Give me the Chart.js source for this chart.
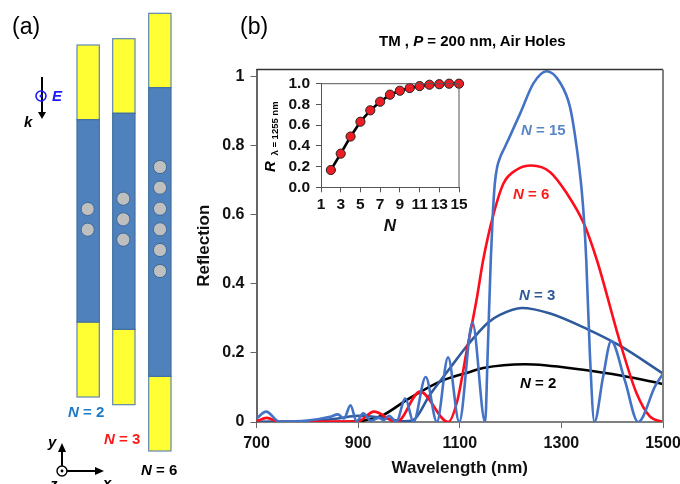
<!DOCTYPE html>
<html>
<head>
<meta charset="utf-8">
<title>Reflection</title>
<script src="https://cdn.jsdelivr.net/npm/chart.js@4/dist/chart.umd.min.js"></script>
<style>
html, body { margin: 0; padding: 0; background: #fff; overflow: hidden; }
#wrap { position: relative; width: 680px; height: 484px; overflow: hidden; }
canvas { position: absolute; }
#mainChart { left: 0; top: 0; }
#insetChart { left: 262px; top: 72px; }
svg { position: absolute; left: 0; top: 0; pointer-events: none; }
svg text { font-family: "Liberation Sans", Arial, sans-serif; }
.b { font-weight: bold; }
.i { font-style: italic; }
</style>
</head>
<body>
<div id="wrap">
<canvas id="mainChart" width="680" height="484"></canvas>
<canvas id="insetChart" width="205" height="170"></canvas>
<svg id="sketch" width="680" height="484" xmlns="http://www.w3.org/2000/svg">
  <text x="12" y="34" font-size="23">(a)</text>
  <text x="240" y="34" font-size="23">(b)</text>
  <text x="379" y="46" font-size="15" class="b">TM , <tspan class="i">P</tspan> = 200 nm, Air Holes</text>

  <!-- incident field -->
  <line x1="42" y1="77" x2="42" y2="112" stroke="#000" stroke-width="2"/>
  <polygon points="38,112 46,112 42,119" fill="#000"/>
  <circle cx="41" cy="96" r="5" fill="none" stroke="#1a1aff" stroke-width="1.6"/>
  <circle cx="41" cy="96" r="1.5" fill="#1a1aff"/>
  <text x="52" y="101" font-size="15" fill="#1a1aff" class="b i">E</text>
  <text x="24" y="127" font-size="15" class="b i">k</text>

  <!-- coordinate axes -->
  <line x1="62" y1="471" x2="62" y2="450" stroke="#000" stroke-width="2"/>
  <polygon points="58,452 66,452 62,443" fill="#000"/>
  <line x1="62" y1="471" x2="96" y2="471" stroke="#000" stroke-width="2"/>
  <polygon points="95,467 95,475 104,471" fill="#000"/>
  <circle cx="62" cy="471" r="5" fill="#fff" stroke="#000" stroke-width="1.4"/>
  <circle cx="62" cy="471" r="1.4" fill="#000"/>
  <text x="48" y="447" font-size="15" class="b i">y</text>
  <text x="103" y="488" font-size="15" class="b i">x</text>
  <text x="50" y="489" font-size="15" class="b i">z</text>

  <text x="68" y="417" font-size="15" fill="#1f7ac4" class="b"><tspan class="i">N</tspan> = 2</text>
  <text x="104" y="444" font-size="15" fill="#ff1a1a" class="b"><tspan class="i">N</tspan> = 3</text>
  <text x="141" y="475" font-size="15" class="b"><tspan class="i">N</tspan> = 6</text>

  <!-- curve labels -->
  <text x="521" y="135" font-size="15" fill="#5b87c5" class="b"><tspan class="i">N</tspan> = 15</text>
  <text x="513" y="199" font-size="15" fill="#ff1a1a" class="b"><tspan class="i">N</tspan> = 6</text>
  <text x="519" y="300" font-size="15" fill="#2f5a96" class="b"><tspan class="i">N</tspan> = 3</text>
  <text x="520" y="388" font-size="15" fill="#000" class="b"><tspan class="i">N</tspan> = 2</text>

  <!-- inset y title -->
  <text transform="translate(275,172) rotate(-90)" font-size="15" class="b"><tspan class="i">R</tspan><tspan font-size="9.5" dx="3" dy="3"> λ = 1255 nm</tspan></text>
</svg>
</div>
<script>
// Reflection spectra, main plot
const wl2 = [700, 850, 890, 910, 949, 996, 1061, 1120, 1146, 1228, 1343, 1422, 1500];
const r2 = [0, 0, 0.001, 0.004, 0.02, 0.064, 0.117, 0.145, 0.156, 0.167, 0.151, 0.133, 0.11];

const wl3 = [700, 800, 860, 900, 950, 990, 1008, 1041, 1081, 1114, 1156, 1179, 1222, 1278, 1352, 1416, 1500];
const r3 = [0, 0.002, 0.01, 0.018, 0.012, 0.002, 0.005, 0.078, 0.156, 0.22, 0.288, 0.31, 0.33, 0.314, 0.268, 0.22, 0.14];

const wl6 = [700, 720, 745, 860, 900, 931, 976, 1022, 1077, 1095, 1114, 1133, 1146, 1165, 1186, 1212, 1241, 1278, 1311, 1344, 1370, 1416, 1448, 1474, 1500];
const r6 = [0.002, 0.012, 0, 0.001, 0.002, 0.03, 0, 0.088, 0, 0.06, 0.208, 0.353, 0.468, 0.593, 0.69, 0.73, 0.742, 0.723, 0.661, 0.575, 0.468, 0.228, 0.083, 0.016, 0];

const wl15 = [700, 719, 745, 800, 845, 860, 872, 885, 897, 910, 925, 941, 950, 961, 975, 993, 1009, 1033, 1055, 1077, 1099, 1125, 1150, 1155, 1161, 1165, 1169, 1174, 1180, 1187, 1195, 1219, 1245, 1271, 1297, 1317, 1330, 1340, 1345, 1349, 1356, 1365, 1382, 1398, 1425, 1451, 1485, 1500];
const r15 = [0.01, 0.03, 0.001, 0.004, 0.015, 0.022, 0.01, 0.048, 0.002, 0.025, 0.004, 0.012, 0.005, 0.018, 0, 0.068, 0, 0.13, 0, 0.187, 0, 0.287, 0, 0.2, 0.468, 0.6, 0.69, 0.74, 0.768, 0.79, 0.815, 0.893, 0.98, 1.015, 0.983, 0.911, 0.796, 0.67, 0.575, 0.468, 0.2, 0, 0.13, 0.234, 0.12, 0, 0.105, 0.14];

const xTicks = [700, 900, 1100, 1300, 1500];
const yTicks = [0, 0.2, 0.4, 0.6, 0.8, 1];

// Inset: reflection at 1255 nm against N
const insetN = [2, 3, 4, 5, 6, 7, 8, 9, 10, 11, 12, 13, 14, 15];
const insetR = [0.167, 0.325, 0.49, 0.633, 0.743, 0.826, 0.894, 0.932, 0.958, 0.977, 0.99, 0.995, 1, 1];
const insetXTicks = [1, 3, 5, 7, 9, 11, 13, 15];
const insetYTicks = [0, 0.2, 0.4, 0.6, 0.8, 1];

// Schematic rods and holes
const rods = [
    { x: 77, top: 45, blueTop: 119.7, blueBottom: 322, bottom: 397, cx: 87.7, holes: [209, 229.7] },
    { x: 112.7, top: 38.7, blueTop: 113.3, blueBottom: 329.3, bottom: 404.7, cx: 123.3, holes: [198.7, 219.3, 239.7] },
    { x: 148.7, top: 13.3, blueTop: 87.7, blueBottom: 376.3, bottom: 451, cx: 160, holes: [167, 187.7, 208.7, 229.3, 250, 271] }
];

const svg = document.getElementById('sketch');
function addShape(tag, attrs) {
    const el = document.createElementNS('http://www.w3.org/2000/svg', tag);
    for (const k in attrs) el.setAttribute(k, attrs[k]);
    svg.appendChild(el);
}
rods.forEach(r => {
    const w = 22.3;
    addShape('rect', { x: r.x, y: r.top, width: w, height: r.blueTop - r.top, fill: '#ffff33', stroke: '#5f86b3', 'stroke-width': 1.2 });
    addShape('rect', { x: r.x, y: r.blueBottom, width: w, height: r.bottom - r.blueBottom, fill: '#ffff33', stroke: '#5f86b3', 'stroke-width': 1.2 });
    addShape('rect', { x: r.x, y: r.blueTop, width: w, height: r.blueBottom - r.blueTop, fill: '#4f81bd', stroke: '#41709f', 'stroke-width': 1.2 });
    r.holes.forEach(cy => addShape('circle', { cx: r.cx, cy: cy, r: 6.6, fill: '#bfbfbf', stroke: '#3f6a98', 'stroke-width': 1 }));
});

function pairs(xs, ys) {
    return xs.map((x, i) => ({ x: x, y: ys[i] }));
}

function curve(xs, ys, color) {
    return {
        data: pairs(xs, ys),
        borderColor: color,
        borderWidth: 2.6,
        pointRadius: 0,
        showLine: true,
        cubicInterpolationMode: 'monotone'
    };
}

// top and right frame lines
const frameLines = {
    id: 'frameLines',
    afterDatasetsDraw(chart, args, opts) {
        const a = chart.chartArea, c = chart.ctx;
        c.save();
        c.strokeStyle = opts.topColor;
        c.lineWidth = opts.topWidth;
        c.beginPath();
        c.moveTo(a.left, a.top);
        c.lineTo(a.right, a.top);
        c.stroke();
        c.strokeStyle = opts.rightColor;
        c.lineWidth = opts.rightWidth;
        c.beginPath();
        c.moveTo(a.right, a.top);
        c.lineTo(a.right, a.bottom);
        c.stroke();
        c.restore();
    }
};

const fontFamily = '"Liberation Sans", Arial, sans-serif';
const tickFont = { family: fontFamily, size: 16, weight: 'bold' };
const insetFont = { family: fontFamily, size: 15.5, weight: 'bold' };
const titleFont = { family: fontFamily, size: 17, weight: 'bold' };

new Chart(document.getElementById('mainChart').getContext('2d'), {
    type: 'scatter',
    data: {
        datasets: [
            curve(wl15, r15, '#4472c4'),
            curve(wl6, r6, '#ff0d1c'),
            curve(wl3, r3, '#2f5a9c'),
            curve(wl2, r2, '#000000')
        ]
    },
    plugins: [frameLines],
    options: {
        responsive: false,
        animation: false,
        layout: { padding: { left: 194, top: 69.5, right: 17, bottom: 0 } },
        plugins: {
            legend: { display: false },
            tooltip: { enabled: false },
            frameLines: { topColor: '#333333', topWidth: 1.3, rightColor: '#808080', rightWidth: 2 }
        },
        scales: {
            x: {
                type: 'linear',
                min: 700,
                max: 1500,
                afterBuildTicks: s => { s.ticks = xTicks.map(v => ({ value: v })); },
                afterFit: s => { s.height = 62; s.paddingRight = 0; s.paddingLeft = 0; },
                grid: { drawOnChartArea: false, tickLength: 6, color: '#666', tickColor: '#666' },
                border: { color: '#808080', width: 2 },
                ticks: { color: '#111', font: tickFont, maxRotation: 0, padding: 6, callback: v => String(v) },
                title: { display: true, text: 'Wavelength (nm)', color: '#111', font: titleFont, padding: { top: 4, bottom: 5 } }
            },
            y: {
                min: 0,
                max: 1.02,
                afterBuildTicks: s => { s.ticks = yTicks.map(v => ({ value: v })); },
                afterFit: s => { s.width = 62.5; },
                grid: { drawOnChartArea: false, tickLength: 6, color: '#666', tickColor: '#666' },
                border: { color: '#666666', width: 2 },
                ticks: { color: '#111', font: tickFont, padding: 6, callback: v => String(v) },
                title: { display: true, text: 'Reflection', color: '#111', font: titleFont, padding: { top: 0, bottom: 4 } }
            }
        }
    }
});

new Chart(document.getElementById('insetChart').getContext('2d'), {
    type: 'scatter',
    data: {
        datasets: [{
            data: pairs(insetN, insetR),
            showLine: true,
            borderColor: '#000',
            borderWidth: 2.6,
            pointRadius: 4.6,
            pointBorderWidth: 1,
            pointBackgroundColor: '#ee1c25',
            pointBorderColor: '#222',
            clip: false
        }]
    },
    plugins: [frameLines],
    options: {
        responsive: false,
        animation: false,
        layout: { padding: { left: 0, top: 11.7, right: 8, bottom: 0 } },
        plugins: {
            legend: { display: false },
            tooltip: { enabled: false },
            frameLines: { topColor: '#555', topWidth: 1, rightColor: '#555', rightWidth: 1 }
        },
        scales: {
            x: {
                type: 'linear',
                min: 1,
                max: 15,
                afterBuildTicks: s => { s.ticks = insetXTicks.map(v => ({ value: v })); },
                afterFit: s => { s.height = 54.7; s.paddingRight = 0; s.paddingLeft = 0; },
                grid: { drawOnChartArea: false, tickLength: 5, color: '#555', tickColor: '#555' },
                border: { color: '#555', width: 1 },
                ticks: { color: '#111', font: insetFont, maxRotation: 0, autoSkip: false, padding: 3 },
                title: { display: true, text: 'N', color: '#111', font: { family: fontFamily, size: 17, weight: 'bold', style: 'italic' }, padding: { top: 3, bottom: 5 } }
            },
            y: {
                min: 0,
                max: 1,
                afterBuildTicks: s => { s.ticks = insetYTicks.map(v => ({ value: v })); },
                afterFit: s => { s.width = 59; s.paddingTop = 0; s.paddingBottom = 0; },
                grid: { drawOnChartArea: false, tickLength: 5, color: '#555', tickColor: '#555' },
                border: { color: '#555', width: 1 },
                ticks: { color: '#111', font: insetFont, padding: 6, autoSkip: false, callback: v => v.toFixed(1) }
            }
        }
    }
});
</script>
</body>
</html>
